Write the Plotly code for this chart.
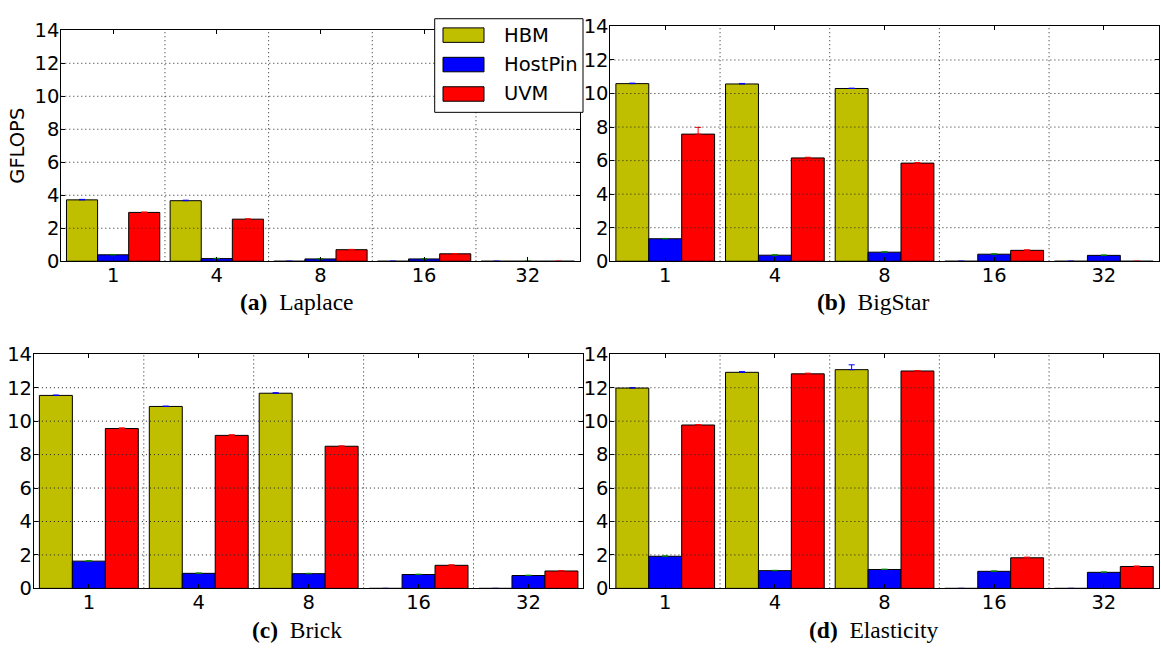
import plotly.graph_objects as go

# Thread counts on the x axis and the three memory configurations
categories = ["1", "4", "8", "16", "32"]
series_names = ["HBM", "HostPin", "UVM"]
series_colors = ["#bfbf00", "#0000ff", "#ff0000"]
errbar_colors = ["#0000ff", "#008000", "#ff0000"]

# (a) Laplace
laplace_hbm = [3.72, 3.67, 0.0, 0.0, 0.0]
laplace_hostpin = [0.39, 0.16, 0.14, 0.14, 0.0]
laplace_uvm = [2.96, 2.55, 0.70, 0.45, 0.0]
laplace_hbm_err = [0.03, 0.03, 0.0, 0.0, 0.0]
laplace_hostpin_err = [0.02, 0.02, 0.02, 0.02, 0.0]
laplace_uvm_err = [0.02, 0.02, 0.02, 0.02, 0.0]

# (b) BigStar
bigstar_hbm = [10.59, 10.57, 10.30, 0.0, 0.0]
bigstar_hostpin = [1.34, 0.36, 0.54, 0.42, 0.35]
bigstar_uvm = [7.58, 6.16, 5.85, 0.65, 0.0]
bigstar_hbm_err = [0.03, 0.03, 0.02, 0.0, 0.0]
bigstar_hostpin_err = [0.02, 0.02, 0.02, 0.02, 0.02]
bigstar_uvm_err = [0.40, 0.04, 0.03, 0.03, 0.0]

# (c) Brick
brick_hbm = [11.54, 10.88, 11.67, 0.0, 0.0]
brick_hostpin = [1.63, 0.90, 0.88, 0.83, 0.77]
brick_uvm = [9.56, 9.15, 8.50, 1.38, 1.04]
brick_hbm_err = [0.02, 0.02, 0.03, 0.0, 0.0]
brick_hostpin_err = [0.02, 0.02, 0.02, 0.02, 0.02]
brick_uvm_err = [0.04, 0.04, 0.02, 0.03, 0.03]

# (d) Elasticity
elasticity_hbm = [11.98, 12.92, 13.08, 0.0, 0.0]
elasticity_hostpin = [1.92, 1.06, 1.13, 1.02, 0.96]
elasticity_uvm = [9.77, 12.83, 13.00, 1.83, 1.31]
elasticity_hbm_err = [0.03, 0.04, 0.29, 0.0, 0.0]
elasticity_hostpin_err = [0.02, 0.02, 0.02, 0.02, 0.02]
elasticity_uvm_err = [0.03, 0.04, 0.03, 0.04, 0.03]

y_ticks = [0, 2, 4, 6, 8, 10, 12, 14]

panels = [
    ("(a)", "Laplace", [laplace_hbm, laplace_hostpin, laplace_uvm],
     [laplace_hbm_err, laplace_hostpin_err, laplace_uvm_err]),
    ("(b)", "BigStar", [bigstar_hbm, bigstar_hostpin, bigstar_uvm],
     [bigstar_hbm_err, bigstar_hostpin_err, bigstar_uvm_err]),
    ("(c)", "Brick", [brick_hbm, brick_hostpin, brick_uvm],
     [brick_hbm_err, brick_hostpin_err, brick_uvm_err]),
    ("(d)", "Elasticity", [elasticity_hbm, elasticity_hostpin, elasticity_uvm],
     [elasticity_hbm_err, elasticity_hostpin_err, elasticity_uvm_err]),
]

W, H = 1161, 658

# Plot-area boxes in pixels: (left, right, top, bottom)
boxes = [
    (61.3, 579.6, 20.0, 259.3),
    (610.4, 1158.7, 16.0, 259.3),
    (33.9, 583.4, 355.7, 598.3),
    (610.4, 1158.7, 355.7, 598.3),
]
# Caption centres in pixels
caption_pos = [(297, 302.0), (873, 302.0), (297, 641.0), (873, 641.0)]

tick_font = dict(family="DejaVu Sans", size=19.5, color="black")
serif = "Liberation Serif"

fig = go.Figure()
layout = dict(
    width=W, height=H,
    margin=dict(l=0, r=0, t=0, b=0),
    paper_bgcolor="white", plot_bgcolor="white",
    barmode="group", bargap=0.1, bargroupgap=0.0,
    showlegend=False,
)

shapes = []
annotations = []
xpos = list(range(len(categories)))
group_edges = [i + 0.5 for i in xpos[:-1]]
no_lower_err = [0.0] * len(categories)

for p, (tag, name, values, errors) in enumerate(panels):
    sfx = "" if p == 0 else str(p + 1)
    xa, ya = "x" + sfx, "y" + sfx
    left, right, top, bottom = boxes[p]

    for s in range(len(series_names)):
        fig.add_trace(go.Bar(
            x=xpos, y=values[s], name=series_names[s],
            xaxis=xa, yaxis=ya, offsetgroup=str(s),
            marker=dict(color=series_colors[s], line=dict(color="black", width=1)),
            error_y=dict(type="data", symmetric=False, array=errors[s],
                         arrayminus=no_lower_err, visible=True,
                         color=errbar_colors[s], thickness=1, width=3),
        ))

    layout["xaxis" + sfx] = dict(
        domain=[left / W, right / W], anchor=ya,
        range=[-0.5, len(categories) - 0.5],
        tickmode="array", tickvals=xpos, ticktext=categories,
        ticks="inside", ticklen=4, tickcolor="black", ticklabelstandoff=-4,
        showline=True, linecolor="black", linewidth=1, mirror="ticks",
        showgrid=False, zeroline=False, tickfont=tick_font,
    )
    layout["yaxis" + sfx] = dict(
        domain=[1 - bottom / H, 1 - top / H], anchor=xa,
        range=[0, 14], tickmode="array", tickvals=y_ticks,
        ticks="inside", ticklen=4, tickcolor="black", ticklabelstandoff=-3,
        showline=True, linecolor="black", linewidth=1, mirror="ticks",
        showgrid=False, zeroline=False, tickfont=tick_font,
    )

    # dotted grid drawn on top of the bars
    grid_line = dict(color="#222", width=1, dash="1px,3px")
    for gy in y_ticks[1:-1]:
        shapes.append(dict(type="line", layer="above", xref=xa + " domain", yref=ya,
                           x0=0, x1=1, y0=gy, y1=gy, line=grid_line))
    for gx in group_edges:
        shapes.append(dict(type="line", layer="above", xref=xa, yref=ya + " domain",
                           x0=gx, x1=gx, y0=0, y1=1, line=grid_line))

    cx, cy = caption_pos[p]
    annotations.append(dict(
        text="<b>" + tag + "</b>\u2002" + name, xref="paper", yref="paper",
        x=cx / W, y=1 - cy / H, xanchor="center", yanchor="middle",
        showarrow=False, font=dict(family=serif, size=23.5, color="black"),
    ))

# y-axis title of the first panel
annotations.append(dict(
    text="GFLOPS", xref="paper", yref="paper", x=18 / W, y=1 - 139.6 / H,
    xanchor="center", yanchor="middle", textangle=-90, showarrow=False,
    font=dict(family="DejaVu Sans", size=19.5, color="black"),
))

# legend box in the upper right of panel (a)
lg_left, lg_right, lg_top, lg_bottom = 434.7, 583.0, 8.0, 105.0
shapes.append(dict(type="rect", layer="above", xref="paper", yref="paper",
                   x0=lg_left / W, x1=lg_right / W, y0=1 - lg_bottom / H, y1=1 - lg_top / H,
                   fillcolor="white", line=dict(color="black", width=1)))
row_y0, row_step = 25.0, 30.5
for s, sname in enumerate(series_names):
    yc = row_y0 + s * row_step
    shapes.append(dict(type="rect", layer="above", xref="paper", yref="paper",
                       x0=443 / W, x1=484 / W, y0=1 - (yc + 7.5) / H, y1=1 - (yc - 7.5) / H,
                       fillcolor=series_colors[s], line=dict(color="black", width=1)))
    annotations.append(dict(
        text=sname, xref="paper", yref="paper", x=502 / W, y=1 - yc / H,
        xanchor="left", yanchor="middle", showarrow=False,
        font=dict(family="DejaVu Sans", size=19.5, color="black"),
    ))

layout["shapes"] = shapes
layout["annotations"] = annotations
fig.update_layout(**layout)
fig.write_html("out.html")
